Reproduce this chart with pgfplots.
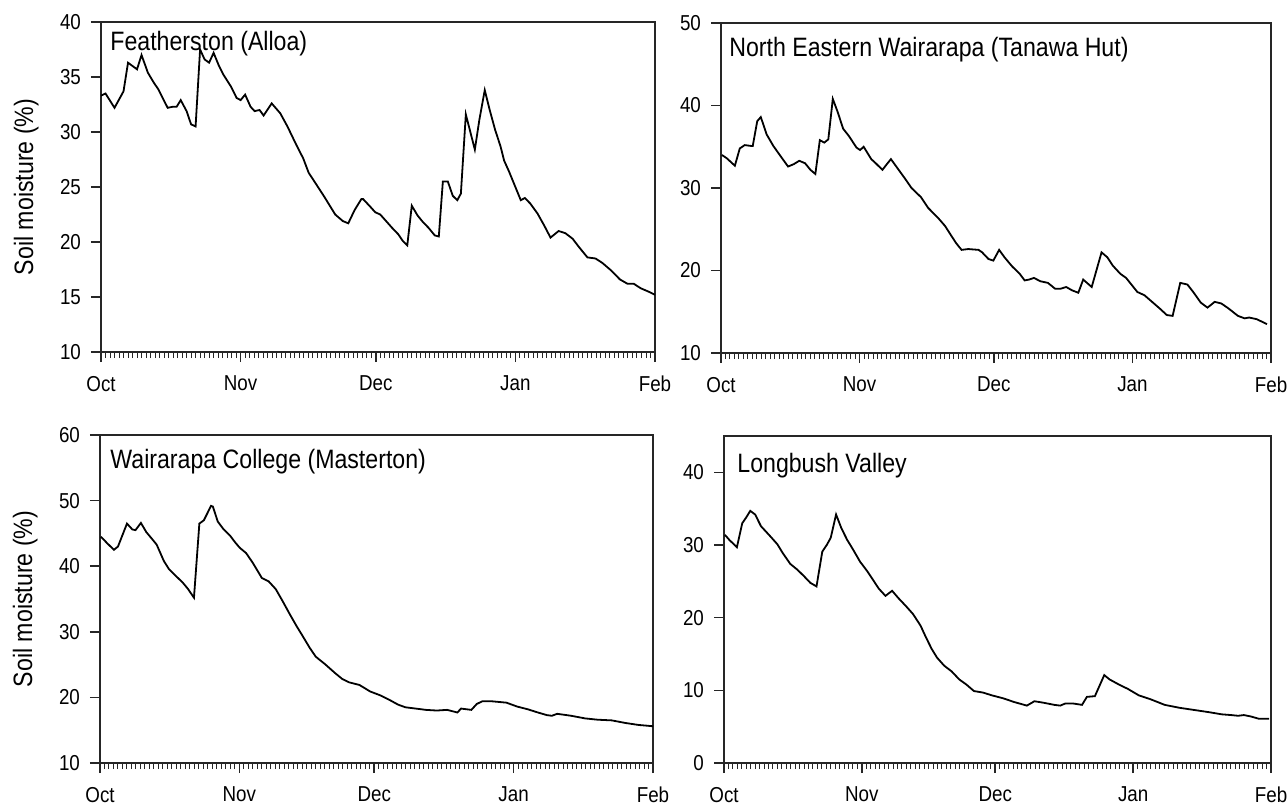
\documentclass[border=0pt]{standalone}
\usepackage{fontspec}
\setmainfont{Liberation Sans}[FakeStretch=0.87]
\usepackage{pgfplots}
\pgfplotsset{compat=1.18}

\pgfplotstableread{
d v
0 33.3
1 33.5
3 32.2
5 33.7
6 36.3
8 35.7
9 37.0
10.4 35.4
11.7 34.5
12.7 33.9
14.8 32.2
16 32.3
16.8 32.3
17.7 32.9
19 31.9
20 30.7
21 30.5
22 37.5
23 36.6
24 36.3
25 37.2
26.2 36.0
27.2 35.2
28.9 34.1
30.1 33.1
31 32.9
32 33.4
33.2 32.3
34.1 31.9
35.2 32.0
36.1 31.5
37.9 32.6
39.8 31.7
41.4 30.5
43.4 28.8
44.9 27.6
46.1 26.3
47.7 25.3
49.6 24.1
50.8 23.3
52 22.5
53.7 21.9
54.9 21.7
56.3 22.9
57.8 23.9
58.2 23.9
59.8 23.2
60.9 22.7
62 22.5
63.3 21.9
64.6 21.3
66 20.7
67 20.1
68 19.7
69 23.3
70.3 22.4
71.5 21.8
72.7 21.3
74.1 20.6
75 20.5
75.9 25.5
77 25.5
78.1 24.2
79.1 23.8
79.9 24.4
81 31.6
82 30.0
83 28.4
84 31.1
85.2 33.8
86.3 32.0
87.5 30.2
88.7 28.7
89.5 27.4
90.6 26.4
91.8 25.2
93.2 23.8
94.1 24.0
95.3 23.5
96.9 22.6
98.4 21.5
99.8 20.4
101.6 21.0
103.1 20.8
104.7 20.3
106.2 19.5
108 18.6
109.8 18.5
111.3 18.1
113.3 17.4
115.2 16.6
116.9 16.2
118.3 16.2
119.8 15.8
121.5 15.5
123 15.2
}\feath

\pgfplotstableread{
d v
0.2 34.0
1.3 33.6
3.1 32.7
4.2 34.8
5.3 35.2
6.7 35.1
7.1 35.1
8.1 38.1
8.9 38.6
10.2 36.5
11.7 35.1
13.4 33.8
15.0 32.6
16.3 32.9
17.5 33.3
18.8 33.0
20.0 32.2
21.1 31.7
22.1 35.8
23.1 35.5
24.0 35.9
25.0 40.8
26.1 39.2
27.3 37.2
28.6 36.3
30.3 34.9
31.1 34.6
31.9 35.0
33.6 33.5
34.6 33.0
36.1 32.2
37.1 32.9
38.0 33.5
39.6 32.3
41.2 31.1
42.6 30.0
44.7 28.9
46.3 27.6
48.5 26.4
50.1 25.4
51.4 24.3
52.6 23.3
53.8 22.5
55.3 22.6
57.6 22.5
58.4 22.2
59.8 21.4
60.9 21.2
62.2 22.5
63.4 21.6
65.1 20.5
66.8 19.6
67.9 18.8
68.9 18.9
70.0 19.1
71.4 18.7
73.1 18.5
74.7 17.8
76.0 17.8
77.2 18.0
78.5 17.6
79.9 17.3
81.0 18.9
82.9 18.0
85.1 22.2
86.4 21.6
87.6 20.6
89.3 19.6
90.6 19.1
93.1 17.4
94.7 17.0
96.4 16.2
98.1 15.4
99.7 14.6
101.0 14.5
102.7 18.5
104.3 18.3
105.6 17.4
107.3 16.1
108.8 15.5
110.4 16.2
111.9 16.0
113.5 15.4
115.6 14.5
117.1 14.2
118.1 14.3
119.8 14.1
122.1 13.5
}\tanawa

\pgfplotstableread{
d v
0.2 44.5
1.6 43.5
3.1 42.5
4.0 43.0
6.0 46.5
7.2 45.6
7.9 45.5
9.1 46.6
10.3 45.2
11.4 44.3
12.6 43.3
14.2 40.8
15.3 39.6
16.9 38.5
18.4 37.5
19.5 36.6
20.9 35.2
22.1 46.5
23.1 47.0
24.7 49.2
25.1 49.1
26.2 46.8
27.4 45.7
29.0 44.6
30.1 43.6
31.1 42.8
32.5 42.0
34.0 40.5
36.0 38.2
37.5 37.7
39.1 36.5
40.6 34.7
42.2 32.7
43.7 30.9
45.3 29.1
46.7 27.5
48.0 26.2
50.0 25.1
52.3 23.7
53.9 22.8
55.4 22.3
57.7 21.9
60.1 20.9
62.4 20.3
64.7 19.5
66.3 18.9
67.9 18.5
70.2 18.3
72.5 18.1
74.9 18.0
77.2 18.1
79.5 17.7
80.3 18.3
82.6 18.1
83.8 19.0
85.0 19.4
87.3 19.4
90.4 19.2
92.8 18.6
95.1 18.2
97.4 17.7
99.4 17.3
100.5 17.2
101.7 17.5
104.8 17.2
107.9 16.8
110.7 16.6
113.8 16.5
116.9 16.1
119.8 15.8
121.5 15.7
123 15.6
}\college

\pgfplotstableread{
d v
0.2 31.4
1.2 30.7
2.9 29.7
4.1 33.0
5.0 33.8
5.9 34.7
7.0 34.2
8.3 32.6
9.5 31.8
10.7 31.0
12.0 30.1
13.2 28.9
14.9 27.4
16.5 26.6
18.0 25.7
19.4 24.8
20.8 24.3
22.1 29.1
23.1 30.0
24.0 31.0
25.2 34.2
26.4 32.3
27.7 30.7
28.9 29.5
30.6 27.7
32.2 26.4
33.4 25.3
34.8 24.0
36.3 23.0
37.8 23.7
39.2 22.7
40.9 21.6
42.5 20.5
44.2 18.9
45.4 17.3
46.7 15.7
47.9 14.5
49.5 13.4
51.2 12.6
52.9 11.5
54.5 10.8
56.2 9.9
58.2 9.7
60.3 9.3
62.8 8.9
65.2 8.4
68.1 7.9
69.8 8.5
71.8 8.3
74.3 8.0
75.6 7.9
76.8 8.2
78.4 8.2
80.5 8.0
81.6 9.1
83.4 9.2
85.5 12.1
86.7 11.5
88.8 10.8
90.8 10.2
93.3 9.3
95.8 8.8
99.1 8.0
102.4 7.6
105.7 7.3
109.0 7.0
111.9 6.7
114.0 6.6
115.6 6.5
116.9 6.6
118.5 6.4
120.2 6.1
122.6 6.1
}\longbush

\pgfplotsset{
  soil/.style={
    scale only axis,
    anchor=south west,
    xmin=0, xmax=123,
    xtick={0,31,61,92,123},
    xticklabels={Oct,Nov,Dec,Jan,Feb},
    minor xtick={1,...,30,32,33,...,60,62,63,...,91,93,94,...,122},
    xtick pos=left, ytick pos=left,
    tick align=outside,
    major tick length=5pt,
    minor tick length=3pt,
    axis line style={line width=0.9pt, black!85},
    major tick style={line width=0.8pt, black!85},
    minor tick style={line width=0.5pt, black!85},
    tick label style={font=\fontsize{10.8}{12}\selectfont},
    xticklabel style={yshift=-3.5pt},
    yticklabel style={xshift=-1.5pt},
    /pgf/number format/assume math mode=true,
    every axis y label/.style={at={(axis description cs:-0.135,0.5)}, rotate=90, anchor=center, font=\fontsize{13.3}{15}\selectfont},
  },
}
\tikzset{ttl/.style={anchor=base west, inner sep=0pt, font=\fontsize{13.3}{15}\selectfont}}

\begin{document}
\begin{tikzpicture}
\useasboundingbox (0,0) rectangle (644pt,405pt);

\begin{axis}[soil, at={(50.5pt,229pt)}, width=277pt, height=165pt,
  ymin=10, ymax=40, ytick={10,15,...,40}, ylabel={Soil moisture (\%)}]
  \addplot[black, line width=0.9pt] table[x=d, y=v] {\feath};
  \node[ttl, xshift=4.5pt, yshift=-14pt] at (rel axis cs:0,1) {Featherston (Alloa)};
\end{axis}

\begin{axis}[soil, at={(360.5pt,228.5pt)}, width=275pt, height=165pt,
  ymin=10, ymax=50, ytick={10,20,...,50}]
  \addplot[black, line width=0.9pt] table[x=d, y=v] {\tanawa};
  \node[ttl, xshift=4pt, yshift=-16.5pt] at (rel axis cs:0,1) {North Eastern Wairarapa (Tanawa Hut)};
\end{axis}

\begin{axis}[soil, at={(50pt,23.5pt)}, width=276.5pt, height=164pt,
  ymin=10, ymax=60, ytick={10,20,...,60}, ylabel={Soil moisture (\%)}]
  \addplot[black, line width=0.9pt] table[x=d, y=v] {\college};
  \node[ttl, xshift=5pt, yshift=-16.5pt] at (rel axis cs:0,1) {Wairarapa College (Masterton)};
\end{axis}

\begin{axis}[soil, at={(362pt,23.5pt)}, width=273.5pt, height=163.5pt,
  ymin=0, ymax=45, ytick={0,10,...,40}]
  \addplot[black, line width=0.9pt] table[x=d, y=v] {\longbush};
  \node[ttl, xshift=6.5pt, yshift=-18pt] at (rel axis cs:0,1) {Longbush Valley};
\end{axis}
\end{tikzpicture}
\end{document}
